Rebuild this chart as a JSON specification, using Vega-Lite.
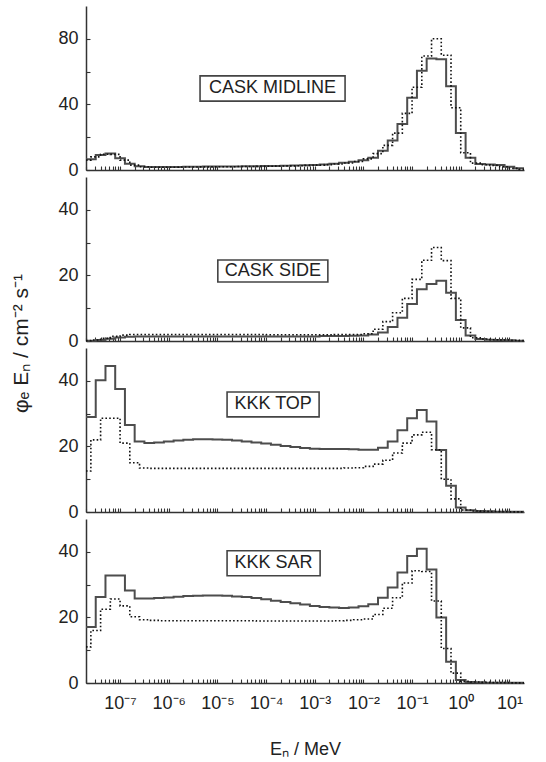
{
  "$schema": "https://vega.github.io/schema/vega-lite/v6.json",
  "padding": {"left": 10, "top": 6, "right": 10, "bottom": 4},
  "spacing": 7,
  "bounds": "flush",
  "datasets": {
    "solid": [
      {"e": 1.995e-8, "mid": 6.5, "side": 0.1, "top": 29, "sar": 17.1},
      {"e": 3.162e-8, "mid": 9.2, "side": 0.3, "top": 40.2, "sar": 26.2},
      {"e": 5.012e-8, "mid": 10, "side": 0.7, "top": 44.5, "sar": 32.8},
      {"e": 7.943e-8, "mid": 7.2, "side": 1.1, "top": 37.5, "sar": 32.8},
      {"e": 1.259e-7, "mid": 3.8, "side": 1.3, "top": 26.5, "sar": 28.2},
      {"e": 1.995e-7, "mid": 2.3, "side": 1.4, "top": 21.5, "sar": 25.8},
      {"e": 3.162e-7, "mid": 1.8, "side": 1.4, "top": 21.0, "sar": 25.8},
      {"e": 5.012e-7, "mid": 1.8, "side": 1.4, "top": 21.2, "sar": 25.9},
      {"e": 7.943e-7, "mid": 1.9, "side": 1.4, "top": 21.5, "sar": 26.1},
      {"e": 1.259e-6, "mid": 1.9, "side": 1.4, "top": 21.8, "sar": 26.3},
      {"e": 1.995e-6, "mid": 2.0, "side": 1.4, "top": 22.0, "sar": 26.5},
      {"e": 3.162e-6, "mid": 2.0, "side": 1.4, "top": 22.2, "sar": 26.6},
      {"e": 5.012e-6, "mid": 2.1, "side": 1.4, "top": 22.2, "sar": 26.7},
      {"e": 7.943e-6, "mid": 2.1, "side": 1.4, "top": 22.1, "sar": 26.7},
      {"e": 1.259e-5, "mid": 2.2, "side": 1.4, "top": 22.0, "sar": 26.6},
      {"e": 1.995e-5, "mid": 2.2, "side": 1.4, "top": 21.8, "sar": 26.4},
      {"e": 3.162e-5, "mid": 2.3, "side": 1.4, "top": 21.5, "sar": 26.2},
      {"e": 5.012e-5, "mid": 2.3, "side": 1.4, "top": 21.2, "sar": 25.9},
      {"e": 7.943e-5, "mid": 2.4, "side": 1.4, "top": 20.9, "sar": 25.5},
      {"e": 1.259e-4, "mid": 2.5, "side": 1.4, "top": 20.5, "sar": 25.1},
      {"e": 1.995e-4, "mid": 2.6, "side": 1.4, "top": 20.1, "sar": 24.7},
      {"e": 3.162e-4, "mid": 2.7, "side": 1.4, "top": 19.8, "sar": 24.3},
      {"e": 5.012e-4, "mid": 2.9, "side": 1.4, "top": 19.5, "sar": 23.9},
      {"e": 7.943e-4, "mid": 3.1, "side": 1.4, "top": 19.3, "sar": 23.5},
      {"e": 1.259e-3, "mid": 3.4, "side": 1.5, "top": 19.2, "sar": 23.2},
      {"e": 1.995e-3, "mid": 3.8, "side": 1.5, "top": 19.2, "sar": 23.0},
      {"e": 3.162e-3, "mid": 4.4, "side": 1.5, "top": 19.2, "sar": 22.9},
      {"e": 5.012e-3, "mid": 5.0, "side": 1.6, "top": 19.1, "sar": 23.0},
      {"e": 7.943e-3, "mid": 6.0, "side": 1.7, "top": 19.0, "sar": 23.4},
      {"e": 1.259e-2, "mid": 7.5, "side": 2.0, "top": 19.0, "sar": 24.0},
      {"e": 1.995e-2, "mid": 11.8, "side": 2.6, "top": 19.6, "sar": 26.0},
      {"e": 3.162e-2, "mid": 18, "side": 4.3, "top": 21.5, "sar": 29.1},
      {"e": 5.012e-2, "mid": 28, "side": 7.1, "top": 24.9, "sar": 33.7},
      {"e": 7.943e-2, "mid": 44, "side": 11.3, "top": 28.6, "sar": 38.7},
      {"e": 0.1259, "mid": 60.5, "side": 15.8, "top": 31.1, "sar": 40.9},
      {"e": 0.1995, "mid": 68, "side": 17.4, "top": 27.6, "sar": 34.6},
      {"e": 0.3162, "mid": 67.5, "side": 18.4, "top": 18.9, "sar": 20.0},
      {"e": 0.5012, "mid": 51, "side": 14.7, "top": 8.0, "sar": 6.5},
      {"e": 0.7943, "mid": 22.5, "side": 6.4, "top": 1.4, "sar": 0.9},
      {"e": 1.259, "mid": 7.4, "side": 1.7, "top": 0.5, "sar": 0.3},
      {"e": 1.995, "mid": 3.6, "side": 0.6, "top": 0.3, "sar": 0.2},
      {"e": 3.162, "mid": 3.4, "side": 0.4, "top": 0.2, "sar": 0.1},
      {"e": 5.012, "mid": 3.0, "side": 0.3, "top": 0.1, "sar": 0.1},
      {"e": 7.943, "mid": 2.0, "side": 0.2, "top": 0.1, "sar": 0.05},
      {"e": 12.59, "mid": 1.0, "side": 0.1, "top": 0.05, "sar": 0.05},
      {"e": 19.95, "mid": 1.0, "side": 0.1, "top": 0.05, "sar": 0.05}
    ],
    "dotted": [
      {"e": 1.995e-8, "mid": 6.0, "side": 0.1, "top": 12.5, "sar": 11},
      {"e": 2.512e-8, "mid": 8.0, "side": 0.3, "top": 22, "sar": 16},
      {"e": 3.981e-8, "mid": 9.6, "side": 0.8, "top": 28.6, "sar": 22.5},
      {"e": 6.310e-8, "mid": 9.5, "side": 1.4, "top": 28.6, "sar": 25.6},
      {"e": 1e-7, "mid": 6.0, "side": 1.8, "top": 21, "sar": 23.5},
      {"e": 1.585e-7, "mid": 3.0, "side": 2.0, "top": 15, "sar": 20.2},
      {"e": 2.512e-7, "mid": 2.0, "side": 2.0, "top": 13.4, "sar": 19.3},
      {"e": 3.981e-7, "mid": 1.7, "side": 2.0, "top": 13.3, "sar": 19.1},
      {"e": 6.310e-7, "mid": 1.7, "side": 2.0, "top": 13.3, "sar": 19.0},
      {"e": 1e-6, "mid": 1.7, "side": 2.0, "top": 13.3, "sar": 19.0},
      {"e": 1.585e-6, "mid": 1.8, "side": 2.0, "top": 13.3, "sar": 19.0},
      {"e": 2.512e-6, "mid": 1.8, "side": 2.0, "top": 13.3, "sar": 19.0},
      {"e": 3.981e-6, "mid": 1.9, "side": 2.0, "top": 13.3, "sar": 19.0},
      {"e": 6.310e-6, "mid": 1.9, "side": 2.0, "top": 13.3, "sar": 19.0},
      {"e": 1e-5, "mid": 2.0, "side": 2.0, "top": 13.3, "sar": 19.0},
      {"e": 1.585e-5, "mid": 2.0, "side": 2.0, "top": 13.3, "sar": 19.0},
      {"e": 2.512e-5, "mid": 2.1, "side": 2.0, "top": 13.3, "sar": 19.0},
      {"e": 3.981e-5, "mid": 2.1, "side": 2.0, "top": 13.3, "sar": 19.0},
      {"e": 6.310e-5, "mid": 2.2, "side": 2.0, "top": 13.3, "sar": 18.9},
      {"e": 1e-4, "mid": 2.3, "side": 1.9, "top": 13.3, "sar": 18.9},
      {"e": 1.585e-4, "mid": 2.4, "side": 1.9, "top": 13.3, "sar": 18.9},
      {"e": 2.512e-4, "mid": 2.5, "side": 1.9, "top": 13.3, "sar": 18.9},
      {"e": 3.981e-4, "mid": 2.6, "side": 1.9, "top": 13.3, "sar": 18.9},
      {"e": 6.310e-4, "mid": 2.8, "side": 1.9, "top": 13.3, "sar": 18.9},
      {"e": 1e-3, "mid": 3.0, "side": 1.9, "top": 13.3, "sar": 18.9},
      {"e": 1.585e-3, "mid": 3.3, "side": 1.9, "top": 13.3, "sar": 18.9},
      {"e": 2.512e-3, "mid": 3.7, "side": 2.0, "top": 13.3, "sar": 19.0},
      {"e": 3.981e-3, "mid": 4.3, "side": 2.0, "top": 13.4, "sar": 19.1},
      {"e": 6.310e-3, "mid": 5.2, "side": 2.0, "top": 13.5, "sar": 19.3},
      {"e": 0.01, "mid": 6.8, "side": 2.2, "top": 13.9, "sar": 19.5},
      {"e": 0.01585, "mid": 10, "side": 3.6, "top": 14.6, "sar": 20.9},
      {"e": 0.02512, "mid": 15, "side": 5.9, "top": 15.8, "sar": 22.8},
      {"e": 0.03981, "mid": 22.5, "side": 8.6, "top": 18, "sar": 26},
      {"e": 0.0631, "mid": 34.5, "side": 13, "top": 21, "sar": 30.5},
      {"e": 0.1, "mid": 50.5, "side": 18.8, "top": 23.5, "sar": 34.2},
      {"e": 0.1585, "mid": 69.5, "side": 24.6, "top": 24.3, "sar": 34},
      {"e": 0.2512, "mid": 80, "side": 28.5, "top": 19, "sar": 25},
      {"e": 0.3981, "mid": 70, "side": 24.5, "top": 10, "sar": 10.5},
      {"e": 0.631, "mid": 38, "side": 13, "top": 4, "sar": 3},
      {"e": 1, "mid": 10.5, "side": 4, "top": 0.6, "sar": 0.5},
      {"e": 1.585, "mid": 4.2, "side": 1.0, "top": 0.3, "sar": 0.3},
      {"e": 2.512, "mid": 3.2, "side": 0.6, "top": 0.2, "sar": 0.2},
      {"e": 3.981, "mid": 2.8, "side": 0.4, "top": 0.15, "sar": 0.1},
      {"e": 6.31, "mid": 2.0, "side": 0.3, "top": 0.1, "sar": 0.1},
      {"e": 10, "mid": 1.0, "side": 0.2, "top": 0.05, "sar": 0.05},
      {"e": 15.85, "mid": 0.4, "side": 0.1, "top": 0.05, "sar": 0.05},
      {"e": 19.95, "mid": 0.4, "side": 0.1, "top": 0.05, "sar": 0.05}
    ]
  },
  "vconcat": [
    {
      "width": 438, "height": 164,
      "layer": [
        {
          "data": {"name": "solid"},
          "mark": {"type": "line", "interpolate": "step-after", "color": "#4d4d4d", "strokeWidth": 2},
          "encoding": {
            "x": {"field": "e", "type": "quantitative", "scale": {"type": "log", "domain": [1.995e-8, 19.95], "nice": false},
                  "axis": {"labels": false, "title": null, "tickCount": 20, "tickSize": -4}},
            "y": {"field": "mid", "type": "quantitative", "scale": {"domain": [0, 100], "nice": false},
                  "axis": {"values": [0, 20, 40, 60, 80], "labelExpr": "datum.value % 40 == 0 ? datum.label : ''", "title": null, "tickSize": -4, "labelPadding": 12}}
          }
        },
        {
          "data": {"name": "dotted"},
          "mark": {"type": "line", "interpolate": "step-after", "color": "#111111", "strokeWidth": 1.6, "strokeDash": [1.6, 2.2]},
          "encoding": {"x": {"field": "e", "type": "quantitative"}, "y": {"field": "mid", "type": "quantitative"}}
        },
        {
          "data": {"values": [{"label": "CASK MIDLINE"}]},
          "mark": {"type": "rect", "fill": "white", "stroke": "#444444", "strokeWidth": 1.6},
          "encoding": {"x": {"datum": 4.4e-6}, "x2": {"datum": 4.2e-3}, "y": {"datum": 42}, "y2": {"datum": 57.4}}
        },
        {
          "data": {"values": [{"label": "CASK MIDLINE"}]},
          "mark": {"type": "text", "font": "Liberation Sans", "fontSize": 18, "color": "#222222", "baseline": "middle", "align": "center"},
          "encoding": {"x": {"datum": 1.36e-4}, "y": {"datum": 49.7}, "text": {"field": "label"}}
        }
      ]
    },
    {
      "width": 438, "height": 164,
      "layer": [
        {
          "data": {"name": "solid"},
          "mark": {"type": "line", "interpolate": "step-after", "color": "#4d4d4d", "strokeWidth": 2},
          "encoding": {
            "x": {"field": "e", "type": "quantitative", "scale": {"type": "log", "domain": [1.995e-8, 19.95], "nice": false},
                  "axis": {"labels": false, "title": null, "tickCount": 20, "tickSize": -4}},
            "y": {"field": "side", "type": "quantitative", "scale": {"domain": [0, 50], "nice": false},
                  "axis": {"values": [0, 10, 20, 30, 40], "labelExpr": "datum.value % 20 == 0 ? datum.label : ''", "tickSize": -4, "labelPadding": 12,
                           "title": "φₑ Eₙ / cm⁻² s⁻¹", "titleFontSize": 21, "titleAngle": 270, "titleAlign": "center", "titleBaseline": "bottom", "titleX": -55, "titleY": 166}}
          }
        },
        {
          "data": {"name": "dotted"},
          "mark": {"type": "line", "interpolate": "step-after", "color": "#111111", "strokeWidth": 1.6, "strokeDash": [1.6, 2.2]},
          "encoding": {"x": {"field": "e", "type": "quantitative"}, "y": {"field": "side", "type": "quantitative"}}
        },
        {
          "data": {"values": [{"label": "CASK SIDE"}]},
          "mark": {"type": "rect", "fill": "white", "stroke": "#444444", "strokeWidth": 1.6},
          "encoding": {"x": {"datum": 1.02e-5}, "x2": {"datum": 1.86e-3}, "y": {"datum": 18.0}, "y2": {"datum": 24.7}}
        },
        {
          "data": {"values": [{"label": "CASK SIDE"}]},
          "mark": {"type": "text", "font": "Liberation Sans", "fontSize": 18, "color": "#222222", "baseline": "middle", "align": "center"},
          "encoding": {"x": {"datum": 1.38e-4}, "y": {"datum": 21.3}, "text": {"field": "label"}}
        }
      ]
    },
    {
      "width": 438, "height": 164,
      "layer": [
        {
          "data": {"name": "solid"},
          "mark": {"type": "line", "interpolate": "step-after", "color": "#4d4d4d", "strokeWidth": 2},
          "encoding": {
            "x": {"field": "e", "type": "quantitative", "scale": {"type": "log", "domain": [1.995e-8, 19.95], "nice": false},
                  "axis": {"labels": false, "title": null, "tickCount": 20, "tickSize": -4}},
            "y": {"field": "top", "type": "quantitative", "scale": {"domain": [0, 50], "nice": false},
                  "axis": {"values": [0, 10, 20, 30, 40], "labelExpr": "datum.value % 20 == 0 ? datum.label : ''", "title": null, "tickSize": -4, "labelPadding": 12}}
          }
        },
        {
          "data": {"name": "dotted"},
          "mark": {"type": "line", "interpolate": "step-after", "color": "#111111", "strokeWidth": 1.6, "strokeDash": [1.6, 2.2]},
          "encoding": {"x": {"field": "e", "type": "quantitative"}, "y": {"field": "top", "type": "quantitative"}}
        },
        {
          "data": {"values": [{"label": "KKK TOP"}]},
          "mark": {"type": "rect", "fill": "white", "stroke": "#444444", "strokeWidth": 1.6},
          "encoding": {"x": {"datum": 1.58e-5}, "x2": {"datum": 1.23e-3}, "y": {"datum": 29.0}, "y2": {"datum": 36.6}}
        },
        {
          "data": {"values": [{"label": "KKK TOP"}]},
          "mark": {"type": "text", "font": "Liberation Sans", "fontSize": 18, "color": "#222222", "baseline": "middle", "align": "center"},
          "encoding": {"x": {"datum": 1.4e-4}, "y": {"datum": 32.8}, "text": {"field": "label"}}
        }
      ]
    },
    {
      "width": 438, "height": 164,
      "layer": [
        {
          "data": {"name": "solid"},
          "mark": {"type": "line", "interpolate": "step-after", "color": "#4d4d4d", "strokeWidth": 2},
          "encoding": {
            "x": {"field": "e", "type": "quantitative", "scale": {"type": "log", "domain": [1.995e-8, 19.95], "nice": false},
                  "axis": {"tickCount": 20, "tickSize": -4,
                           "labelExpr": "abs(log(datum.value)/LN10 - round(log(datum.value)/LN10)) < 0.001 ? '10' + (round(log(datum.value)/LN10) < 0 ? '⁻' : '') + substring('⁰¹²³⁴⁵⁶⁷⁸⁹', abs(round(log(datum.value)/LN10)), abs(round(log(datum.value)/LN10)) + 1) : ''",
                           "labelOverlap": false, "labelFlush": false, "labelBound": false, "labelFontSize": 18, "labelPadding": 15,
                           "title": "Eₙ / MeV", "titlePadding": 28}},
            "y": {"field": "sar", "type": "quantitative", "scale": {"domain": [0, 50], "nice": false},
                  "axis": {"values": [0, 10, 20, 30, 40], "labelExpr": "datum.value % 20 == 0 ? datum.label : ''", "title": null, "tickSize": -4, "labelPadding": 12}}
          }
        },
        {
          "data": {"name": "dotted"},
          "mark": {"type": "line", "interpolate": "step-after", "color": "#111111", "strokeWidth": 1.6, "strokeDash": [1.6, 2.2]},
          "encoding": {"x": {"field": "e", "type": "quantitative"}, "y": {"field": "sar", "type": "quantitative"}}
        },
        {
          "data": {"values": [{"label": "KKK SAR"}]},
          "mark": {"type": "rect", "fill": "white", "stroke": "#444444", "strokeWidth": 1.6},
          "encoding": {"x": {"datum": 1.58e-5}, "x2": {"datum": 1.29e-3}, "y": {"datum": 32.7}, "y2": {"datum": 40.3}}
        },
        {
          "data": {"values": [{"label": "KKK SAR"}]},
          "mark": {"type": "text", "font": "Liberation Sans", "fontSize": 18, "color": "#222222", "baseline": "middle", "align": "center"},
          "encoding": {"x": {"datum": 1.42e-4}, "y": {"datum": 36.5}, "text": {"field": "label"}}
        }
      ]
    }
  ],
  "config": {
    "view": {"stroke": null},
    "axis": {"domainColor": "#333333", "domainWidth": 1.5, "tickColor": "#333333", "tickWidth": 1.1, "grid": false,
             "labelFont": "Liberation Sans", "labelFontSize": 18, "labelColor": "#222222",
             "titleFont": "Liberation Sans", "titleFontSize": 18, "titleFontWeight": "normal", "titleColor": "#222222"}
  }
}
